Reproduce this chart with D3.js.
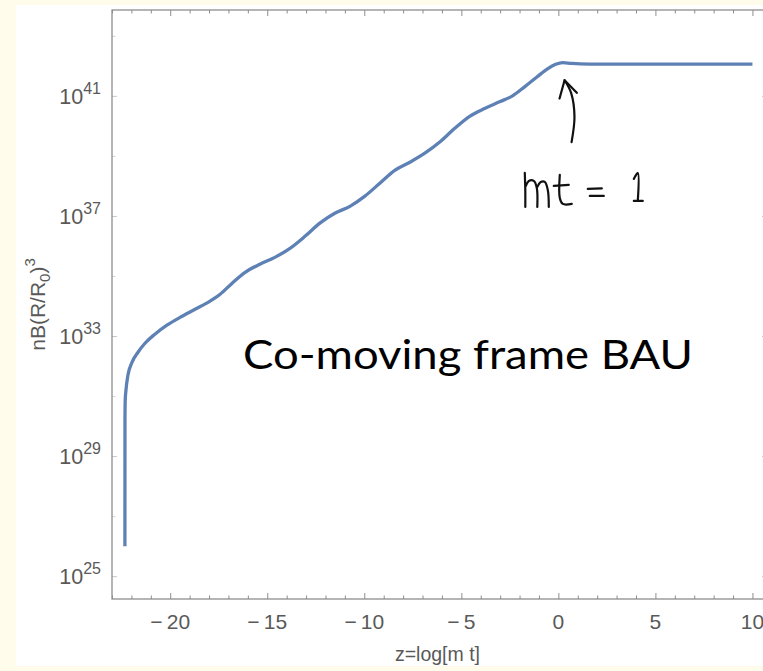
<!DOCTYPE html>
<html>
<head>
<meta charset="utf-8">
<script src="https://cdn.jsdelivr.net/npm/d3@7/dist/d3.min.js"></script>
<style>
  html, body { margin: 0; padding: 0; background: #fffcec; }
  svg { display: block; }
  .tick-label { font-family: "Liberation Sans", Arial, sans-serif; fill: #595959; }
</style>
</head>
<body>
<svg id="chart" width="763" height="671"></svg>
<script>
/* Co-moving frame BAU: nB(R/R0)^3 vs z = log[m t], log y axis */

// z = log[m t]
const Z = [
  -22.335, -22.333, -22.331, -22.32, -22.28, -22.18, -21.97, -21.66, -21.30,
  -20.79, -20.17, -19.50, -18.72, -17.95, -17.43, -16.81, -16.14, -15.38,
  -14.61, -13.83, -13.06, -12.29, -11.52, -10.74, -9.97, -9.20, -8.43,
  -7.65, -6.88, -6.11, -5.34, -4.57, -3.80, -3.03, -2.36, -1.74, -1.12,
  -0.56, -0.14, 0.22, 0.68, 1.6, 4.0, 7.0, 10.0
];
// log10 of nB(R/R0)^3
const LOG_NB = [
  26.0, 28.2, 30.2, 30.85, 31.2, 31.69, 32.12, 32.46, 32.76,
  33.06, 33.36, 33.62, 33.89, 34.16, 34.39, 34.76, 35.12, 35.39,
  35.62, 35.92, 36.32, 36.76, 37.09, 37.32, 37.66, 38.09, 38.52,
  38.79, 39.09, 39.46, 39.92, 40.32, 40.58, 40.80, 41.00, 41.30, 41.62,
  41.90, 42.05, 42.11, 42.08, 42.06, 42.06, 42.06, 42.06
];

const X_MAJOR = [-20, -15, -10, -5, 0, 5, 10];
const X_MINOR = d3.range(-23, 11).filter(v => v % 5 !== 0);
const Y_MAJOR_EXP = [25, 29, 33, 37, 41];
const Y_MINOR_EXP = [27, 31, 35, 39, 43];

const X_DOMAIN = [-23, 10.75];
const Y_DOMAIN_EXP = [24.24, 43.86];

const TITLE = 'Co-moving frame BAU';
const NOTE = 'mt = 1';

const BLUE = '#5e81b5';
const FRAME = '#8e8e8e';

const W = 763, H = 671;
const M = { left: 112, top: 10, right: 767, bottom: 599 };

const svg = d3.select('#chart');

// white sheet on the cream slide
svg.append('rect').attr('x', 16).attr('y', 5).attr('width', W - 16).attr('height', 661).attr('fill', '#fff');

const x = d3.scaleLinear().domain(X_DOMAIN).range([M.left, M.right]);
const y = d3.scaleLog().domain(Y_DOMAIN_EXP.map(e => Math.pow(10, e))).range([M.bottom, M.top]);

// --- frame + ticks (ticks point inward, Mathematica style) ---
const frame = svg.append('g');
function tickAxis(axisFn, scale, vals, size, tx, ty, color){
  const g = frame.append('g').attr('transform', `translate(${tx},${ty})`)
    .call(axisFn(scale).tickValues(vals).tickSize(-size).tickFormat(''));
  g.select('.domain').remove();
  g.selectAll('line').attr('stroke', color);
  return g;
}
tickAxis(d3.axisBottom, x, X_MAJOR, 6, 0, M.bottom, FRAME);
tickAxis(d3.axisBottom, x, X_MINOR, 3.5, 0, M.bottom, FRAME);
tickAxis(d3.axisTop, x, X_MAJOR, 6, 0, M.top, FRAME);
tickAxis(d3.axisTop, x, X_MINOR, 3.5, 0, M.top, FRAME);
const yMaj = Y_MAJOR_EXP.map(e => Math.pow(10, e));
const yMin = Y_MINOR_EXP.map(e => Math.pow(10, e));
tickAxis(d3.axisLeft, y, yMaj, 5, M.left, 0, '#c8c8c8');
tickAxis(d3.axisLeft, y, yMin, 3.5, M.left, 0, '#d4d4d4');
tickAxis(d3.axisRight, y, yMaj, 5, M.right, 0, '#c8c8c8');
tickAxis(d3.axisRight, y, yMin, 3.5, M.right, 0, '#d4d4d4');

frame.append('rect')
  .attr('x', M.left).attr('y', M.top)
  .attr('width', M.right - M.left).attr('height', M.bottom - M.top)
  .attr('fill', 'none').attr('stroke', FRAME).attr('stroke-width', 1.3);

// x tick labels
svg.append('g').selectAll('text')
  .data(X_MAJOR)
  .join('text')
  .attr('class', 'tick-label')
  .attr('x', d => x(d))
  .attr('y', 629)
  .attr('text-anchor', 'middle')
  .attr('font-size', 21)
  .text(d => d < 0 ? '\u2212' + '\u2009' + Math.abs(d) : String(d));

// y tick labels 10^n
const yl = svg.append('g').selectAll('text')
  .data(Y_MAJOR_EXP)
  .join('text')
  .attr('class', 'tick-label')
  .attr('x', 101)
  .attr('y', d => y(Math.pow(10, d)) + 8)
  .attr('text-anchor', 'end')
  .attr('font-size', 21.5);
yl.append('tspan').text('10');
yl.append('tspan').attr('dy', -10).attr('font-size', 16).text(d => d);

// axis labels
svg.append('text')
  .attr('class', 'tick-label')
  .attr('x', (M.left + M.right) / 2 - 2)
  .attr('y', 661)
  .attr('text-anchor', 'middle')
  .attr('font-size', 19.5)
  .text('z=log[m t]');

const ylab = svg.append('text')
  .attr('class', 'tick-label')
  .attr('transform', `translate(45,${(M.top + M.bottom) / 2}) rotate(-90)`)
  .attr('text-anchor', 'middle')
  .attr('font-size', 21);
ylab.append('tspan').text('nB(R/R');
ylab.append('tspan').attr('dy', 5).attr('font-size', 15).text('0');
ylab.append('tspan').attr('dy', -5).text(')');
ylab.append('tspan').attr('dy', -10).attr('font-size', 15).text('3');

// --- curve ---
svg.append('clipPath').attr('id', 'plot-clip')
  .append('rect').attr('x', M.left).attr('y', M.top)
  .attr('width', M.right - M.left).attr('height', M.bottom - M.top);

const pts = Z.map((z, i) => [z, Math.pow(10, LOG_NB[i])]);
const line = d3.line()
  .x(d => x(d[0]))
  .y(d => y(d[1]))
  .curve(d3.curveMonotoneX);

svg.append('path')
  .datum(pts)
  .attr('clip-path', 'url(#plot-clip)')
  .attr('d', line)
  .attr('fill', 'none')
  .attr('stroke', BLUE)
  .attr('stroke-width', 3.3)
  .attr('stroke-linejoin', 'round');

// --- slide overlay text ---
svg.append('text')
  .attr('x', 468)
  .attr('y', 369)
  .attr('text-anchor', 'middle')
  .attr('font-family', 'Lato, "Open Sans", sans-serif')
  .attr('font-size', 40)
  .attr('fill', '#000')
  .attr('textLength', 450)
  .attr('lengthAdjust', 'spacingAndGlyphs')
  .text(TITLE);

// --- handwritten arrow pointing at the turnover (data coords) ---
const ARROW_SHAFT = [[0.68, 39.46], [0.83, 40.30], [0.66, 41.09], [0.32, 41.52]];
const ARROW_HEAD = [[0.06, 40.91], [0.32, 41.52], [0.95, 41.10]];
const ink = d3.line().x(d => x(d[0])).y(d => y(Math.pow(10, d[1]))).curve(d3.curveCatmullRom.alpha(0.5));
const hand = svg.append('g').attr('fill', 'none').attr('stroke', '#111')
  .attr('stroke-width', 2.2).attr('stroke-linecap', 'round').attr('stroke-linejoin', 'round');
hand.append('path').attr('d', ink(ARROW_SHAFT));
hand.append('path').attr('d', d3.line().x(d => x(d[0])).y(d => y(Math.pow(10, d[1])))(ARROW_HEAD));

// handwritten "mt = 1", strokes in pen offsets from an anchor
const NOTE_ANCHOR = [-1.73, 37.3];
const NOTE_STROKES = [
  [[0, -34], [0.5, -17], [0.5, 0]],
  [[1, -21], [4, -26], [9, -26], [12, -19], [12.5, 0]],
  [[12.5, -20], [16, -25], [20, -25], [23, -17], [24, 0]],
  [[35, -32], [35, -9], [38, -3], [47, -3]],
  [[29, -21], [44, -22]],
  [[63, -18], [77, -18.5]],
  [[65, -11], [79, -11]],
  [[109, -28], [113, -34], [113, -6]],
  [[109, -6], [118, -6]]
];
const ax = x(NOTE_ANCHOR[0]), ay = y(Math.pow(10, NOTE_ANCHOR[1]));
const pen = d3.line().x(d => ax + d[0]).y(d => ay + d[1]).curve(d3.curveCatmullRom.alpha(0.5));
hand.append('g').attr('aria-label', NOTE)
  .selectAll('path').data(NOTE_STROKES).join('path').attr('d', pen);
</script>
</body>
</html>
